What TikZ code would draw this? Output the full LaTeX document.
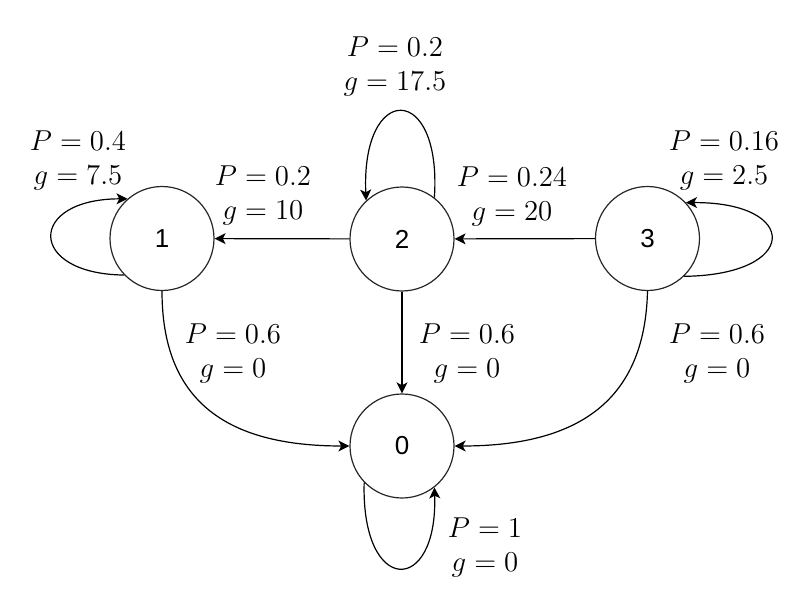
\documentclass[tikz,border=0pt]{standalone}
\usepackage{fontspec}
\newfontfamily\nodefont{Liberation Sans}
\usetikzlibrary{arrows.meta}
\begin{document}
\begin{tikzpicture}[x=0.5pt,y=-0.5pt,
  state/.style={draw=black!85,line width=0.6pt,circle,minimum size=52pt,inner sep=0pt,font=\nodefont\fontsize{13}{15}\selectfont},
  lbl/.style={align=center,inner sep=0pt,font=\fontsize{15.5}{17}\selectfont},
  edge/.style={line width=0.6pt,-{Stealth[length=5.5pt,width=5.5pt,inset=1.4pt]}}]
\useasboundingbox (0,0) rectangle (809,610);
\node[state] (n1) at (162,238.5) {1};
\node[state] (n2) at (402,239) {2};
\node[state] (n3) at (647.5,238.5) {3};
\node[state] (n0) at (402,446) {0};
% edges
\draw[edge] (n2) -- (n1);
\draw[edge] (n3) -- (n2);
\draw[edge] (n2) -- (n0);
\draw[edge] (n1.south) .. controls (162,400) and (225,446) .. (n0.west);
\draw[edge] (n3.south) .. controls (645,400) and (579,446) .. (n0.east);
% loops
\draw[edge] (n1.224) .. controls (27,274) and (27,199) .. (n1.131.5);
\draw[edge] (n3.314) .. controls (800,275) and (800,202) .. (n3.43.5);
\draw[edge] (n2.52.5) .. controls (442,82) and (361,82) .. (n2.133.5);
\draw[edge] (n0.224) .. controls (361,596) and (438,596) .. (n0.308.7);
% labels
\node[lbl] (l11) at (78,160) {$P = 0.4$\\$g = 7.5$};
\node[lbl] (l21) at (263,195) {$P = 0.2$\\$g = 10$};
\node[lbl] (l22) at (395,66) {$P = 0.2$\\$g = 17.5$};
\node[lbl] (l32) at (512,196) {$P = 0.24$\\$g = 20$};
\node[lbl] (l33) at (724,160) {$P = 0.16$\\$g = 2.5$};
\node[lbl] (l10) at (233,353) {$P = 0.6$\\$g = 0$};
\node[lbl] (l20) at (467,353) {$P = 0.6$\\$g = 0$};
\node[lbl] (l30) at (717,353) {$P = 0.6$\\$g = 0$};
\node[lbl] (l00) at (485,547) {$P = 1$\\$g = 0$};
\end{tikzpicture}
\end{document}
